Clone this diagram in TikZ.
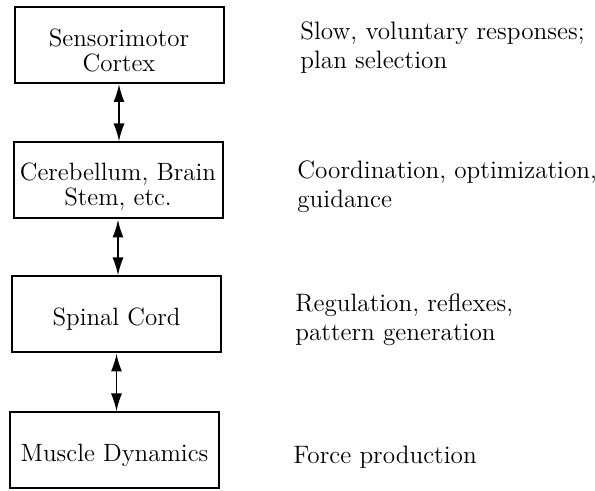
\documentclass[tikz,border=0pt]{standalone}
\usetikzlibrary{arrows.meta}

\newcommand{\liftline}[1]{\rule{0pt}{#1}}

\tikzset{
  stage/.style={draw, line width=1pt, minimum width=104.5pt, minimum height=38pt,
    inner sep=0pt, align=center, font=\fontsize{12.5}{12.5}\selectfont},
  role/.style={anchor=west, align=left, inner sep=0pt, font=\fontsize{12.6}{14.5}\selectfont},
  link/.style={{Latex[length=9pt,width=5.5pt]}-{Latex[length=9pt,width=5.5pt]}, line width=0.9pt}
}

\begin{document}
\begin{tikzpicture}[x=0.5pt,y=-0.5pt]
            \useasboundingbox (0,0) rectangle (595,491);

            \node[stage] (cortex) at (119,45) {\liftline{14.5pt}Sensorimotor\\Cortex};
            \node[stage] (stem) at (118,180.5) {\liftline{14.5pt}Cerebellum, Brain\\Stem, etc.};
            \node[stage] (cord) at (116.5,314.5) {\liftline{13.5pt}Spinal Cord};
            \node[stage] (muscle) at (114.5,450.5) {\liftline{13.5pt}Muscle Dynamics};

            \node[role] (slow) at (300,48) {Slow, voluntary responses;\\plan selection};
            \node[role] (coord) at (297,187) {Coordination, optimization,\\guidance};
            \node[role] (reg) at (295,320) {Regulation, reflexes,\\pattern generation};
            \node[role] (force) at (293,457) {Force production};

            \draw[link] (cortex.south) -- (cortex.south |- stem.north);
            \draw[link] (stem.south) -- (stem.south |- cord.north);
            \draw[link] (cord.south) -- (cord.south |- muscle.north);
\end{tikzpicture}
\end{document}
